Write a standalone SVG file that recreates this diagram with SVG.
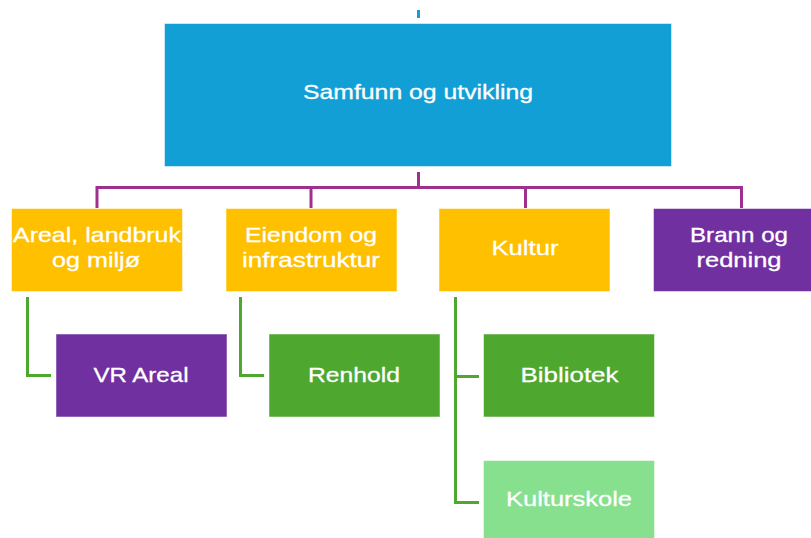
<svg xmlns="http://www.w3.org/2000/svg" width="811" height="538" viewBox="0 0 811 538">
<style>
.t{font-family:"Liberation Sans",Arial,sans-serif;font-size:21px;fill:#ffffff;text-anchor:middle;stroke:#ffffff;stroke-width:0.3}
.b{stroke:#ffffff;stroke-opacity:0.5;stroke-width:1}
.cp{fill:none;stroke:#A0308F;stroke-width:3}
.cg{fill:none;stroke:#4EA72E;stroke-width:3}
</style>
<rect width="811" height="538" fill="#ffffff"/>
<g id="connectors">
<line x1="418.5" y1="10" x2="418.5" y2="18" stroke="#119FD6" stroke-width="3"/>
<path class="cp" d="M418.5 172V187.5M97 208V187.5H741.5V208M311 187.5V208M525.5 187.5V208"/>
<path class="cg" d="M27.5 297V375.5H51"/>
<path class="cg" d="M240.5 297V375.5H264"/>
<path class="cg" d="M455.5 297V502.5H479M455.5 376.5H479"/>
</g>
<g id="n-samfunn"><rect class="b" x="164.5" y="23.5" width="507" height="143" fill="#119FD6"/><text class="t" x="418" y="99" textLength="230" lengthAdjust="spacingAndGlyphs">Samfunn og utvikling</text></g>
<g id="n-areal"><rect class="b" x="11.5" y="208.5" width="171" height="83" fill="#FFC000"/><text class="t" x="97" y="242" textLength="168" lengthAdjust="spacingAndGlyphs">Areal, landbruk</text><text class="t" x="96" y="267" textLength="88" lengthAdjust="spacingAndGlyphs">og miljø</text></g>
<g id="n-eiendom"><rect class="b" x="226" y="208.5" width="171" height="83" fill="#FFC000"/><text class="t" x="311" y="242" textLength="132" lengthAdjust="spacingAndGlyphs">Eiendom og</text><text class="t" x="311" y="267" textLength="138" lengthAdjust="spacingAndGlyphs">infrastruktur</text></g>
<g id="n-kultur"><rect class="b" x="439" y="208.5" width="171" height="83" fill="#FFC000"/><text class="t" x="525" y="255" textLength="67" lengthAdjust="spacingAndGlyphs">Kultur</text></g>
<g id="n-brann"><rect class="b" x="653.5" y="208.5" width="171" height="83" fill="#7030A0"/><text class="t" x="739" y="242" textLength="98" lengthAdjust="spacingAndGlyphs">Brann og</text><text class="t" x="739" y="267" textLength="85" lengthAdjust="spacingAndGlyphs">redning</text></g>
<g id="n-vrareal"><rect class="b" x="56" y="334" width="171" height="83" fill="#7030A0"/><text class="t" x="141" y="382" textLength="95" lengthAdjust="spacingAndGlyphs">VR Areal</text></g>
<g id="n-renhold"><rect class="b" x="269" y="334" width="171" height="83" fill="#4EA72E"/><text class="t" x="354" y="382" textLength="92" lengthAdjust="spacingAndGlyphs">Renhold</text></g>
<g id="n-bibliotek"><rect class="b" x="483.5" y="334" width="171" height="83" fill="#4EA72E"/><text class="t" x="569.5" y="382" textLength="98" lengthAdjust="spacingAndGlyphs">Bibliotek</text></g>
<g id="n-kulturskole"><rect class="b" x="483.5" y="460.5" width="171" height="83" fill="#86E08E"/><text class="t" x="569" y="506" textLength="126" lengthAdjust="spacingAndGlyphs">Kulturskole</text></g>
</svg>
